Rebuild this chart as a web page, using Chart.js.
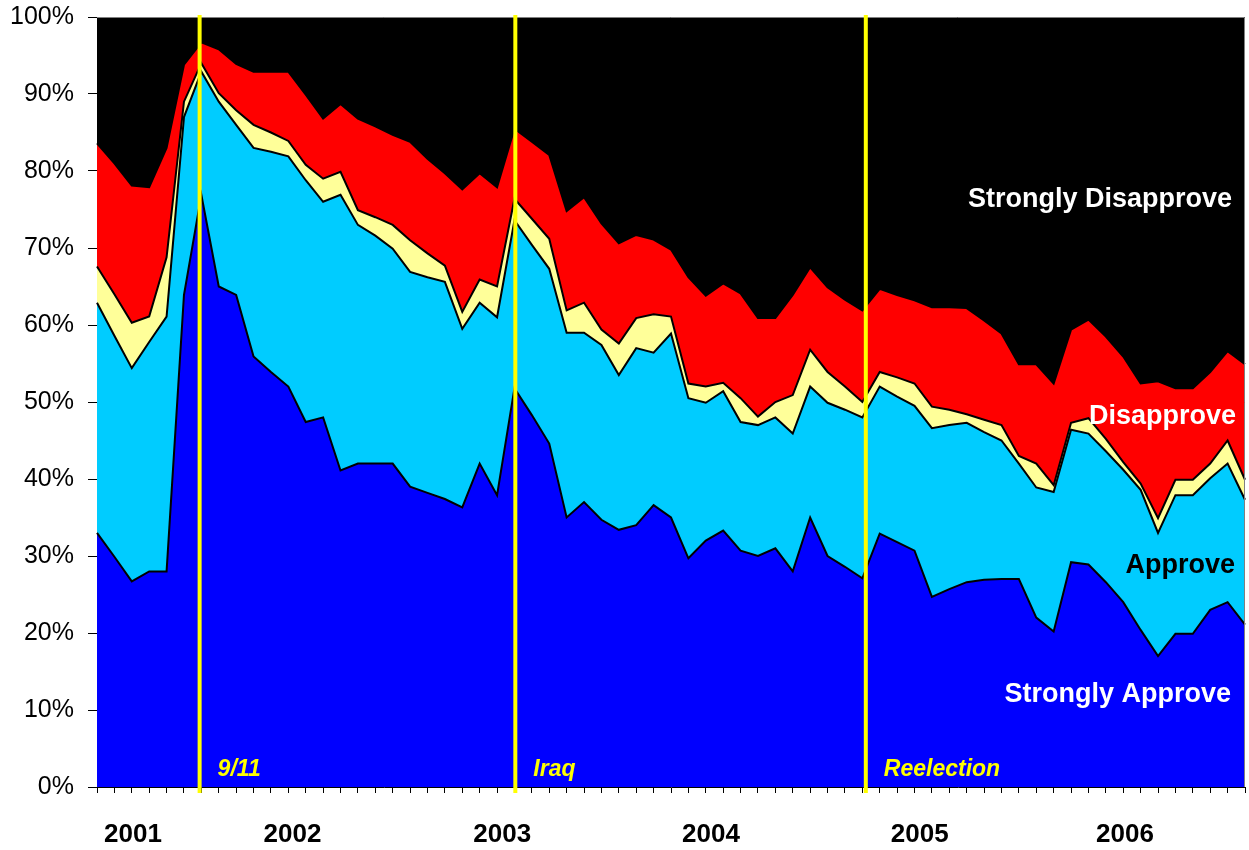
<!DOCTYPE html>
<html>
<head>
<meta charset="utf-8">
<script src="https://cdn.jsdelivr.net/npm/chart.js@4.4.1/dist/chart.umd.min.js"></script>
<style>
  html, body { margin: 0; padding: 0; background: #fff; }
  #wrap { width: 1249px; height: 850px; }
</style>
</head>
<body>
<div id="wrap"><canvas id="approvalChart"></canvas></div>
<script>
// monthly polls, Mar 2001 .. Sep 2006
const monthNames = ['Jan','Feb','Mar','Apr','May','Jun','Jul','Aug','Sep','Oct','Nov','Dec'];
let months = [];
for (let i = 0; i < 67; i++) {
    let m = (2 + i) % 12;
    let y = 2001 + Math.floor((2 + i) / 12);
    months.push(monthNames[m] + ' ' + y);
}

const strongApprove = [33.0,29.9,26.7,28.0,28.0,63.9,76.9,65.0,63.9,55.9,53.9,52.0,47.4,48.0,41.1,42.0,42.0,42.0,39.0,38.2,37.4,36.3,42.0,37.9,51.8,48.3,44.6,35.0,37.0,34.7,33.4,34.0,36.6,35.0,29.7,32.0,33.3,30.7,30.0,31.0,28.0,35.0,30.0,28.6,27.1,32.9,31.8,30.7,24.7,25.7,26.6,26.9,27.0,27.0,22.0,20.2,29.2,28.9,26.6,24.0,20.4,17.0,19.9,19.9,23.0,24.0,21.1];
const approve = [29.9,28.7,27.7,29.8,33.1,23.1,16.0,24.0,22.1,27.1,28.6,29.9,31.4,28.0,35.8,31.0,29.6,27.9,27.9,28.0,28.2,23.2,20.9,23.1,21.8,22.1,22.7,24.0,22.0,22.7,20.1,23.0,19.8,23.9,20.8,17.9,18.1,16.7,17.0,17.0,17.9,17.0,19.9,20.4,20.9,19.1,18.9,18.8,21.9,21.3,20.7,19.2,18.0,15.0,16.9,18.1,17.2,17.0,17.0,17.2,18.2,16.0,18.0,18.0,17.1,18.0,16.2];
const noOpinion = [4.7,5.4,5.9,3.3,7.7,2.0,1.1,1.1,1.9,3.0,2.5,2.0,2.0,3.0,3.0,1.9,2.4,3.1,4.1,3.1,2.1,2.2,3.0,4.0,2.8,3.4,3.9,2.9,3.9,2.0,4.1,3.9,5.0,2.2,1.9,2.1,1.1,3.1,1.1,2.0,5.0,4.8,4.0,3.0,2.0,1.9,2.5,2.9,2.8,2.0,1.1,1.6,2.0,1.0,3.1,0.9,0.9,2.0,1.6,1.0,0.8,1.9,2.0,2.0,1.9,3.0,2.6];
const disapprove = [16.0,17.0,17.8,16.8,14.2,4.8,2.7,5.7,6.0,6.9,7.9,9.0,9.1,7.8,8.8,11.9,11.8,11.7,12.8,12.3,12.0,15.9,13.8,12.9,9.1,10.0,10.9,12.9,13.7,13.8,13.0,10.8,9.7,8.7,13.8,11.8,12.9,13.6,12.8,10.9,13.0,10.7,11.0,11.3,11.9,10.8,10.7,10.8,12.9,13.3,13.8,12.9,11.9,11.9,12.9,13.2,12.1,12.8,13.3,13.7,13.0,17.8,11.9,11.9,11.9,11.6,15.0];
const strongDisapprove = [16.4,19.0,21.9,22.1,17.0,6.2,3.3,4.2,6.1,7.1,7.1,7.1,10.1,13.2,11.3,13.2,14.2,15.3,16.2,18.4,20.3,22.4,20.3,22.1,14.5,16.2,17.9,25.2,23.4,26.8,29.4,28.3,28.9,30.2,33.8,36.2,34.6,35.9,39.1,39.1,36.1,32.5,35.1,36.7,38.1,35.3,36.1,36.8,37.7,37.7,37.8,39.4,41.1,45.1,45.1,47.6,40.6,39.3,41.5,44.1,47.6,47.3,48.2,48.2,46.1,43.4,45.1];

// year labels and where they sit (in month index units)
const yearLabels = ['2001','2002','2003','2004','2005','2006'];
const yearPos = [2.07, 11.24, 23.3, 35.3, 47.3, 59.1];

// events marked with yellow lines
const eventLabels = ['9/11','Iraq','Reelection'];
const eventPos = [5.9, 24.05, 44.2];

const seriesNames = ['Strongly Approve','Approve','No Opinion','Disapprove','Strongly Disapprove'];
const seriesData = [strongApprove, approve, noOpinion, disapprove, strongDisapprove];
const seriesColors = ['#0000FF','#00CCFF','#FFFF99','#FF0000','#000000'];

const FONT = "'Liberation Sans', Arial, sans-serif";

// labels, lines and frame drawn on top
const overlayPlugin = {
    id: 'overlay',
    afterDraw(chart) {
        const ctx = chart.ctx;
        const area = chart.chartArea;
        const x = chart.scales.x;
        ctx.save();

        // frame on top and right side
        ctx.strokeStyle = '#808080';
        ctx.lineWidth = 1;
        ctx.beginPath();
        ctx.moveTo(area.left, area.top + 0.5);
        ctx.lineTo(area.right - 0.5, area.top + 0.5);
        ctx.lineTo(area.right - 0.5, area.bottom);
        ctx.stroke();

        // event lines
        ctx.strokeStyle = '#FFFF00';
        ctx.lineWidth = 4;
        eventPos.forEach(p => {
            const px = x.getPixelForValue(p);
            ctx.beginPath();
            ctx.moveTo(px, area.top - 2);
            ctx.lineTo(px, area.bottom + 6);
            ctx.stroke();
        });

        ctx.fillStyle = '#FFFF00';
        ctx.font = 'italic bold 23px ' + FONT;
        ctx.textAlign = 'left';
        ctx.textBaseline = 'alphabetic';
        eventLabels.forEach((t, i) => {
            ctx.fillText(t, x.getPixelForValue(eventPos[i]) + 18, 776);
        });

        // year labels
        ctx.fillStyle = '#000';
        ctx.font = 'bold 26px ' + FONT;
        ctx.textAlign = 'center';
        yearLabels.forEach((t, i) => {
            ctx.fillText(t, x.getPixelForValue(yearPos[i]), 842);
        });

        // series names
        ctx.textAlign = 'right';
        ctx.font = 'bold 27px ' + FONT;
        ctx.fillStyle = '#fff';
        ctx.fillText('Strongly Disapprove', 1232, 207);
        ctx.fillText('Disapprove', 1236, 424);
        ctx.fillStyle = '#000';
        ctx.fillText('Approve', 1235, 573);
        ctx.fillStyle = '#fff';
        ctx.fillText('Strongly Approve', 1231, 702);

        ctx.restore();
    }
};

const ctx = document.getElementById('approvalChart').getContext('2d');
const chart = new Chart(ctx, {
    type: 'line',
    data: {
        labels: months,
        datasets: seriesData.map((d, i) => ({
            label: seriesNames[i],
            data: d,
            backgroundColor: seriesColors[i],
            borderColor: '#000',
            borderWidth: i === 4 ? 0 : 2,
            fill: i === 0 ? 'origin' : '-1',
            pointRadius: 0,
            tension: 0
        }))
    },
    options: {
        responsive: true,
        maintainAspectRatio: false,
        animation: false,
        layout: { padding: { top: 17, right: 4, left: 0, bottom: 0 } },
        plugins: {
            legend: { display: false },
            tooltip: { enabled: false }
        },
        scales: {
            x: {
                offset: false,
                grid: { drawOnChartArea: false, drawTicks: true, tickLength: 6, color: '#000', offset: false },
                border: { color: '#000', width: 1 },
                ticks: { autoSkip: false, maxRotation: 0, callback: () => '' },
                afterFit: s => { s.height = 63; s.paddingLeft = 0; s.paddingRight = 0; }
            },
            y: {
                stacked: true,
                min: 0,
                max: 100,
                grid: { drawOnChartArea: false, tickLength: 9, color: '#000' },
                border: { color: '#000', width: 1 },
                ticks: {
                    stepSize: 10,
                    padding: 14,
                    color: '#000',
                    font: { family: FONT, size: 25 },
                    callback: v => v + '%'
                },
                afterFit: s => { s.width = 97; s.paddingTop = 0; s.paddingBottom = 0; }
            }
        }
    },
    plugins: [overlayPlugin]
});
</script>
</body>
</html>
